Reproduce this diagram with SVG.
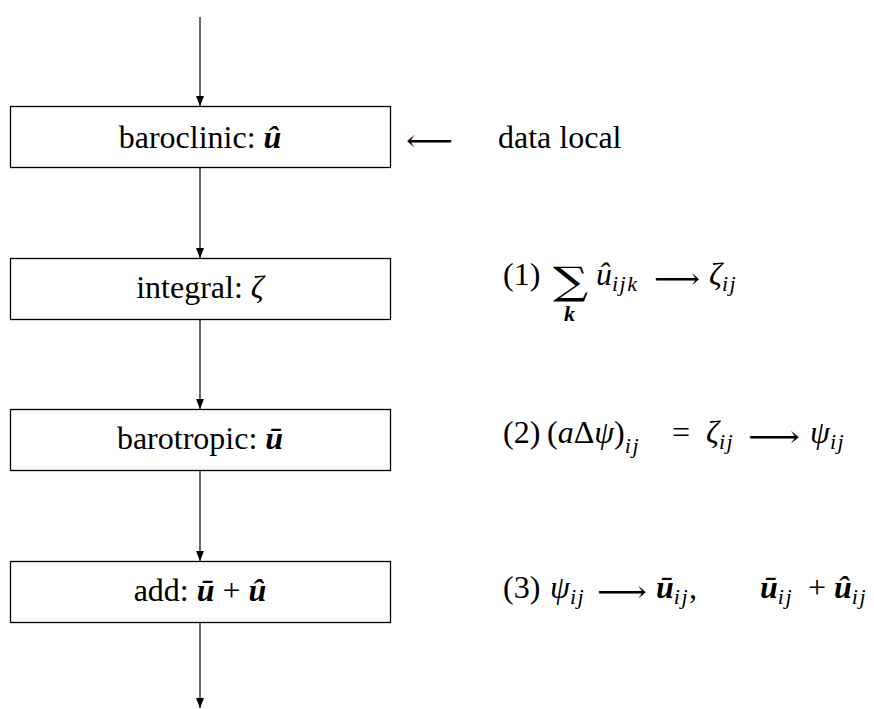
<svg xmlns="http://www.w3.org/2000/svg" width="874" height="709" viewBox="0 0 874 709">
<defs>
<marker id="ah" markerWidth="10" markerHeight="8" refX="10" refY="4" orient="auto" markerUnits="userSpaceOnUse" viewBox="0 0 10 8">
<path d="M0,0 L10,4 L0,8 Z" fill="#000"/>
</marker>
</defs>
<style>
.box{fill:#fff;stroke:#000;stroke-width:1.3}
.t{font-family:"Liberation Serif","Times New Roman",serif;font-size:32px;fill:#000}
.m{font-style:italic}
.b{font-weight:bold;font-style:italic}
.s{font-size:22px;font-style:italic;letter-spacing:1.5px}
.ar{font-family:"DejaVu Serif","DejaVu Sans",serif;font-size:30px}
.c{stroke:#000;stroke-width:1.2;fill:none}
</style>
<g id="connectors">
<line class="c" x1="200" y1="17" x2="200" y2="106" marker-end="url(#ah)"/>
<line class="c" x1="200" y1="168" x2="200" y2="258" marker-end="url(#ah)"/>
<line class="c" x1="200" y1="320" x2="200" y2="409" marker-end="url(#ah)"/>
<line class="c" x1="200" y1="470" x2="200" y2="561" marker-end="url(#ah)"/>
<line class="c" x1="200" y1="622" x2="200" y2="708" marker-end="url(#ah)"/>
</g>
<g id="baroclinic">
<rect class="box" x="10.5" y="106.5" width="380" height="61"/>
<text class="t" x="200" y="148" text-anchor="middle">baroclinic: <tspan class="b">û</tspan></text>
</g>
<g id="integral">
<rect class="box" x="10.5" y="258.5" width="380" height="61"/>
<text class="t" x="200" y="298" text-anchor="middle">integral: <tspan class="m">ζ</tspan></text>
</g>
<g id="barotropic">
<rect class="box" x="10.5" y="409.5" width="380" height="61"/>
<text class="t" x="200" y="449" text-anchor="middle">barotropic: <tspan class="b">ū</tspan></text>
</g>
<g id="add">
<rect class="box" x="10.5" y="561.5" width="380" height="61"/>
<text class="t" x="200" y="601" text-anchor="middle">add: <tspan class="b">ū</tspan> + <tspan class="b">û</tspan></text>
</g>
<g id="data-local">
<text class="t ar" x="406" y="151" textLength="47" lengthAdjust="spacingAndGlyphs">⟵</text>
<text class="t" x="498" y="148">data local</text>
</g>
<g id="step1">
<text class="t" x="503" y="285">(1)</text>
<text class="t" x="553" y="294" style="font-family:'DejaVu Serif',serif;font-size:38px" textLength="35" lengthAdjust="spacingAndGlyphs">∑</text>
<text class="t s" x="564" y="321" style="font-weight:bold">k</text>
<text class="t" x="596" y="285"><tspan class="m">û</tspan><tspan class="s" dy="6">ijk</tspan></text>
<text class="t ar" x="654" y="289" textLength="46" lengthAdjust="spacingAndGlyphs">⟶</text>
<text class="t" x="709" y="285"><tspan class="m">ζ</tspan><tspan class="s" dy="6">ij</tspan></text>
</g>
<g id="step2">
<text class="t" x="503" y="443">(2)</text>
<text class="t" x="547" y="443">(<tspan class="m">a</tspan>Δ<tspan class="m">ψ</tspan>)<tspan class="s" dy="10">ij</tspan></text>
<text class="t" x="672" y="443">=</text>
<text class="t" x="706" y="443"><tspan class="m">ζ</tspan><tspan class="s" dy="6">ij</tspan></text>
<text class="t ar" x="748" y="447" textLength="52" lengthAdjust="spacingAndGlyphs">⟶</text>
<text class="t" x="810" y="443"><tspan class="m">ψ</tspan><tspan class="s" dy="6">ij</tspan></text>
</g>
<g id="step3">
<text class="t" x="503" y="598">(3)</text>
<text class="t" x="550" y="598"><tspan class="m">ψ</tspan><tspan class="s" dy="6">ij</tspan></text>
<text class="t ar" x="597" y="602" textLength="50" lengthAdjust="spacingAndGlyphs">⟶</text>
<text class="t" x="656" y="598"><tspan class="b">ū</tspan><tspan class="s" dy="6">ij</tspan><tspan dy="-6">,</tspan></text>
<text class="t" x="760" y="598"><tspan class="b">ū</tspan><tspan class="s" dy="6">ij</tspan></text>
<text class="t" x="808" y="598">+</text>
<text class="t" x="834" y="598"><tspan class="b">û</tspan><tspan class="s" dy="6">ij</tspan></text>
</g>
</svg>
